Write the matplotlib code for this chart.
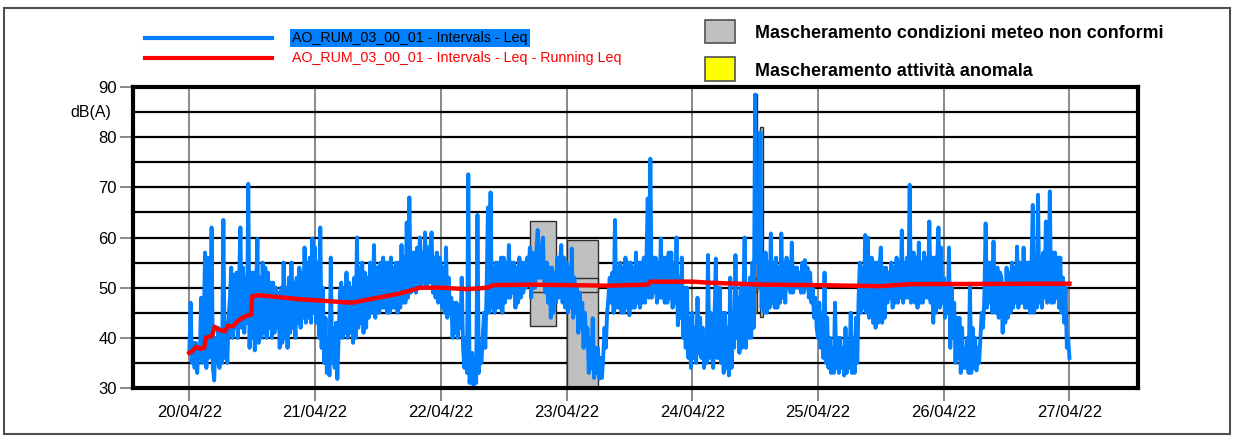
"""
Leq time history for station AO_RUM_03_00_01, 20/04/22 - 27/04/22,
with running Leq and the masked (non-conforming weather) intervals.
"""

import matplotlib
matplotlib.use("Agg")  # headless
import matplotlib.dates as mdates
import matplotlib.pyplot as plt
import pandas as pd
from matplotlib.lines import Line2D
from matplotlib.patches import Rectangle

STATION = "AO_RUM_03_00_01"
START = "2022-04-20 00:00"
STEP = "15min"

# Leq read every 15 min off the trace, one list per day, dB(A)
# (one row = 6 hours)
leq_20 = [37, 47, 35, 39, 34, 39, 33, 38, 36, 48, 35, 42, 57, 34, 56, 36, 40, 62, 34, 31.5, 40, 35, 42, 34,
          41, 35, 63.5, 36, 43, 35, 44, 48, 54, 40, 52.5, 42, 53, 40, 51, 62, 42, 54, 41, 52, 43, 70.7, 38, 53,
          40, 53, 37.5, 50, 59.7, 39, 52, 40, 55, 41, 54, 40, 53, 42, 51, 40, 51, 41, 50, 42, 49, 38, 50, 39,
          55, 40, 50, 38, 52, 41, 55, 42, 51, 40, 52, 43, 54, 42, 53, 44, 58, 43, 55, 44, 56, 43, 59.8, 45]
leq_21 = [58, 43, 55, 40, 62, 38, 50, 35, 44, 33, 40, 32.5, 56, 35, 42, 34, 43, 31.8, 40, 49, 51, 40, 50, 41,
          53, 40, 51, 41, 50, 39, 52, 40, 60, 42, 54, 43, 55, 41, 53, 42, 52, 44, 55, 45, 45, 58.5, 44, 54,
          54, 45, 55, 46, 56, 46, 55, 45, 55, 45, 56, 46, 54, 46, 55, 45, 55, 46, 58.5, 47, 56, 47, 63, 48,
          68, 49, 57, 50, 57, 49, 58, 50, 60, 50, 57, 51, 61, 50, 58, 51, 58, 61, 49, 56, 48, 57, 47, 56]
leq_22 = [55, 46, 54, 45, 58, 44, 52, 45, 48, 40, 47, 41, 47, 40, 46, 42, 52, 38, 34, 40, 33, 72.6, 31, 36,
          37, 30.5, 35, 31, 64.5, 33, 37, 35, 40, 45, 38, 50, 66, 45, 69, 46, 54, 45, 55, 46, 55, 46, 56, 45,
          56, 47, 55, 48, 58.5, 48, 55, 49, 55, 46, 54, 47, 56, 48, 55, 49, 55, 50, 56, 51, 58, 48, 57, 50,
          50, 57, 61.5, 52, 52, 58, 60, 51, 49, 55, 47, 54, 44, 54, 45, 53, 47, 56, 48, 55, 58.5, 47, 56, 46]
leq_23 = [55, 45, 54, 46, 57.8, 44, 52, 45, 50, 41, 49, 42, 47, 38, 45, 39, 42, 33, 40, 34, 43.9, 32, 38, 33,
          38, 31.9, 36, 32, 36, 42, 38, 45, 48, 52, 47, 53, 45, 63.5, 46, 54, 46, 55, 45, 54, 45, 56, 46, 55,
          44.5, 55, 46, 54, 46, 57, 47, 55, 46, 55, 47, 56, 47, 55, 67.8, 48, 75.7, 48, 56, 49, 56, 47, 55, 48,
          59.8, 48, 56, 47, 56, 47, 57, 48, 57, 46, 55, 47, 60, 42.5, 52, 44, 56, 40, 50, 38, 50, 36, 44, 34]
leq_24 = [45, 36, 42, 35, 48, 37, 44, 36, 42, 34, 40, 35, 56.5, 36, 45, 37, 34, 44, 55.8, 36, 36, 50, 35, 45,
          33, 45, 34, 42, 32.5, 52, 34, 44, 38, 56.5, 40, 48, 37, 50, 38, 48, 60, 38, 50, 40, 52, 40, 55, 42,
          88.5, 55, 70, 50, 81, 46, 56, 45, 57, 45, 55, 46, 60.8, 47, 55, 46, 56, 46, 54, 47, 60.8, 48, 55, 47,
          56, 50, 55, 49, 59, 49, 54, 50, 54, 50, 53, 49, 55, 49, 55.5, 50, 54, 48, 53, 47, 50, 44, 48, 42]
leq_25 = [40, 47, 38, 45, 36, 53, 35, 44, 34, 40, 33, 38, 33, 47, 34, 40, 33, 40, 34, 38, 32.5, 42, 33, 39,
          34, 45, 33, 40, 33, 44, 35, 48, 55, 45, 54, 46, 60.5, 45, 60, 44, 45, 56, 43, 55, 42, 55, 43, 54,
          58, 43, 54, 44, 54, 47, 53, 48, 55, 46, 54, 47, 56, 47, 55, 48, 61.4, 47, 55, 48, 56, 48, 70.5, 47,
          48, 57, 47, 56, 46, 59, 47, 55, 47, 57, 48, 56, 48, 63.2, 47, 56, 43, 56, 45, 55, 62, 46, 58, 47]
leq_26 = [52, 44, 50, 45, 58, 38, 50, 40, 47, 35, 44, 36, 44, 33, 42, 34, 38, 34, 40, 33, 50.5, 33, 42, 34,
          40, 33.5, 38, 35, 40, 45, 42, 48, 62.8, 46, 55, 47, 55, 45, 59.2, 46, 45, 54, 44, 53, 52, 41, 50, 43,
          54, 44, 53, 45, 55, 46, 54, 47, 58.2, 46, 55, 47, 47, 58, 46, 55, 46, 55, 45, 54, 66.5, 45, 55, 46,
          68.5, 47, 56, 46, 57, 48, 63.2, 47, 48, 69.2, 47, 57, 47, 57, 48, 56, 46, 56, 45, 52, 43, 50, 38, 40]
leq_end = [36]

# running Leq, breakpoints of the red trace
run_times = ["2022-04-20 00:00", "2022-04-20 00:30", "2022-04-20 01:20",
             "2022-04-20 02:10", "2022-04-20 02:50", "2022-04-20 03:10",
             "2022-04-20 04:20", "2022-04-20 04:50", "2022-04-20 05:40",
             "2022-04-20 06:50", "2022-04-20 07:20", "2022-04-20 08:20",
             "2022-04-20 09:10", "2022-04-20 10:10", "2022-04-20 11:10",
             "2022-04-20 11:50", "2022-04-20 12:00", "2022-04-20 13:20",
             "2022-04-20 17:10", "2022-04-20 21:00", "2022-04-21 00:00",
             "2022-04-21 07:00", "2022-04-21 12:00", "2022-04-21 16:00",
             "2022-04-21 18:30", "2022-04-21 20:00", "2022-04-22 00:00",
             "2022-04-22 05:00", "2022-04-22 09:00", "2022-04-22 10:00",
             "2022-04-22 17:00", "2022-04-23 08:00", "2022-04-23 15:30",
             "2022-04-23 16:00", "2022-04-24 00:00", "2022-04-24 03:00",
             "2022-04-24 13:40", "2022-04-25 00:00", "2022-04-25 12:00",
             "2022-04-25 17:40", "2022-04-27 00:00"]
run_values = [37.0, 37.3, 38.2, 37.8, 38.0, 40.0, 40.4, 42.2, 41.6, 41.3,
              42.4, 42.3, 43.3, 44.0, 44.5, 44.6, 48.3, 48.5, 48.1, 47.7,
              47.5, 47.0, 48.0, 48.8, 49.5, 50.0, 50.0, 49.7, 50.0, 50.5,
              50.6, 50.4, 50.6, 51.2, 51.2, 51.0, 50.6, 50.5, 50.3, 50.7,
              50.8]

# masked intervals: span, min/max of the interval, Leq band
mask_start = ["2022-04-22 17:04", "2022-04-23 00:00",
              "2022-04-24 11:55", "2022-04-24 12:52"]
mask_end = ["2022-04-22 21:57", "2022-04-23 06:03",
            "2022-04-24 12:25", "2022-04-24 13:34"]
mask_min = [42.4, 30.2, 45.0, 44.2]
mask_max = [63.2, 59.5, 88.6, 82.1]
mask_leq_lo = [49.1, 49.1, 49.1, 49.1]
mask_leq_hi = [52.0, 52.0, 52.0, 52.0]

day_ticks = ["2022-04-20", "2022-04-21", "2022-04-22", "2022-04-23",
             "2022-04-24", "2022-04-25", "2022-04-26", "2022-04-27"]

X_MIN = "2022-04-19 13:15"
X_MAX = "2022-04-27 13:05"

BLUE = "#0080ff"
RED = "#ff0000"
MASK_GREY = "#c0c0c0"
NARROW = ["Liberation Sans Narrow", "Liberation Sans", "DejaVu Sans"]

W, H = 1234, 437


def px(x, y):
    """pixel (from top-left) -> figure fraction"""
    return x / W, 1 - y / H


def main() -> None:
    leq = leq_20 + leq_21 + leq_22 + leq_23 + leq_24 + leq_25 + leq_26 + leq_end
    t = pd.date_range(START, periods=len(leq), freq=STEP)
    t_run = pd.to_datetime(run_times)

    fig = plt.figure(figsize=(W / 100, H / 100), dpi=100)
    x0, y0 = px(133, 388)
    x1, y1 = px(1138, 87)
    ax = fig.add_axes([x0, y0, x1 - x0, y1 - y0])

    # outer frame
    fx0, fy0 = px(4, 434)
    fx1, fy1 = px(1230, 8)
    fig.add_artist(Rectangle((fx0, fy0), fx1 - fx0, fy1 - fy0, transform=fig.transFigure,
                             fill=False, ec="#505050", lw=1.5))

    # masked intervals (under the traces)
    for s, e, lo, hi, llo, lhi in zip(mask_start, mask_end, mask_min, mask_max,
                                      mask_leq_lo, mask_leq_hi):
        xs = mdates.date2num(pd.Timestamp(s))
        xe = mdates.date2num(pd.Timestamp(e))
        ax.add_patch(Rectangle((xs, lo), xe - xs, hi - lo, fc=MASK_GREY,
                               ec="#303030", lw=1.0, zorder=1.8))
        ax.add_patch(Rectangle((xs, llo), xe - xs, lhi - llo, fc="none",
                               ec="#303030", lw=1.0, zorder=1.9))

    ax.plot(t, leq, color=BLUE, lw=2.8, zorder=2)
    ax.plot(t_run, run_values, color=RED, lw=3.2, zorder=3)

    ax.set_xlim(pd.Timestamp(X_MIN), pd.Timestamp(X_MAX))
    ax.set_ylim(30, 90)

    ax.set_yticks(range(30, 91, 10))
    ax.set_yticks(range(35, 90, 10), minor=True)
    ax.set_xticks(pd.to_datetime(day_ticks))
    ax.xaxis.set_major_formatter(mdates.DateFormatter("%d/%m/%y"))

    ax.set_axisbelow(True)
    ax.grid(axis="y", which="both", color="black", lw=1.6)
    ax.grid(axis="x", which="major", color="#808080", lw=1.3)

    ax.tick_params(axis="y", which="major", length=9.5, width=1.3, color="#808080",
                   pad=2, labelsize=12)
    ax.tick_params(axis="y", which="minor", length=0)
    ax.tick_params(axis="x", length=9, width=1.3, color="#808080", pad=3, labelsize=12)
    for lab in ax.get_xticklabels() + ax.get_yticklabels():
        lab.set_family(NARROW)

    for sp in ax.spines.values():
        sp.set_linewidth(3)
        sp.set_color("black")

    fig.text(*px(111, 113), "dB(A)", ha="right", va="center", fontsize=11.5,
             family=NARROW)

    # left legend (series)
    for yy, col in ((38, BLUE), (58, RED)):
        xa, ya = px(145, yy)
        xb, _ = px(272, yy)
        fig.add_artist(Line2D([xa, xb], [ya, ya], transform=fig.transFigure,
                              color=col, lw=3))
    fig.text(*px(292, 38), f"{STATION} - Intervals - Leq", ha="left", va="center",
             fontsize=10.3, family=NARROW, color="black",
             bbox=dict(boxstyle="square,pad=0.15", fc=BLUE, ec="none"))
    fig.text(*px(292, 58), f"{STATION} - Intervals - Leq - Running Leq", ha="left",
             va="center", fontsize=10.3, family=NARROW, color=RED)

    # right legend (masks)
    for ytop, ybot, col in ((20, 43, MASK_GREY), (57, 81, "#ffff00")):
        bx0, by0 = px(705, ybot)
        bx1, by1 = px(735, ytop)
        fig.add_artist(Rectangle((bx0, by0), bx1 - bx0, by1 - by0,
                                 transform=fig.transFigure, fc=col, ec="#505050", lw=1.2))
    fig.text(*px(755, 33), "Mascheramento condizioni meteo non conformi", ha="left",
             va="center", fontsize=12.9, weight="bold", family="Liberation Sans")
    fig.text(*px(755, 71), "Mascheramento attività anomala", ha="left",
             va="center", fontsize=12.9, weight="bold", family="Liberation Sans")

    fig.savefig("out.png", dpi=100)


if __name__ == "__main__":
    main()
